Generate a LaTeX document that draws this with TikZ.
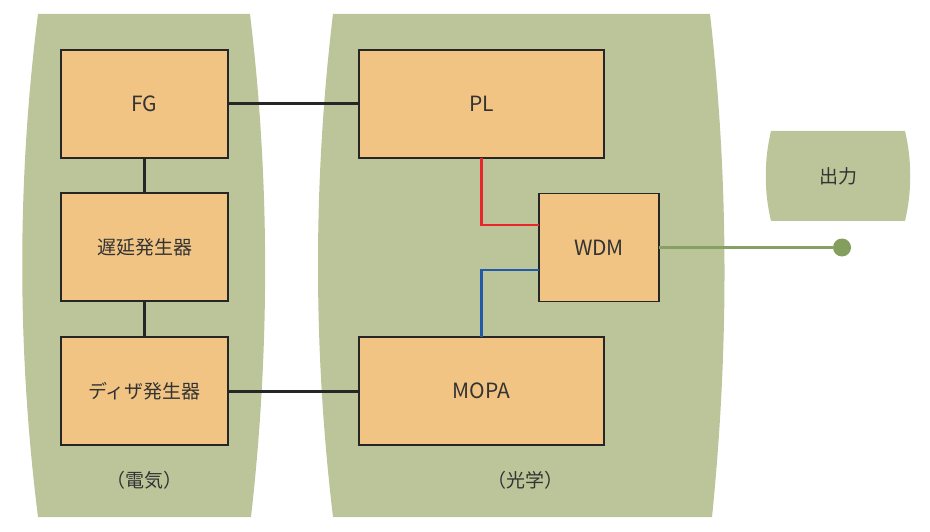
\documentclass[tikz,border=0pt]{standalone}
\usepackage{fontspec}
\setmainfont{Noto Sans CJK JP}
\usepackage{xcolor}
\usepackage{tikz}
\usetikzlibrary{positioning}
\definecolor{panelgreen}{HTML}{BCC599}
\definecolor{boxorange}{HTML}{F1C484}
\definecolor{linegreen}{HTML}{86A163}
\definecolor{dotgreen}{HTML}{849E5E}
\definecolor{redline}{HTML}{E8262B}
\definecolor{blueline}{HTML}{1F5BA8}
\tikzset{
	panel/.style = {fill=panelgreen, draw=none},
	block/.style = {draw=black!85, fill=boxorange, line width=1.3pt, rectangle, align=center,
		minimum height=108pt, inner sep=0pt, outer sep=0pt, text=black!80,
		font=\fontsize{19}{19}\selectfont},
	latin/.style = {font=\fontsize{21}{21}\selectfont},
	link/.style = {draw=black!85, line width=3pt},
	label/.style = {text=black!80, font=\fontsize{19}{19}\selectfont}
}
\begin{document}
\begin{tikzpicture}[x=1pt, y=-1pt]
	\useasboundingbox (0,0) rectangle (930,532);

	% green panels
	\path[panel] (38,14) -- (250,14) .. controls (270,180) and (270,350) .. (251,517)
		-- (38,517) .. controls (17,350) and (17,180) .. (38,14);
	\path[panel] (333,14) -- (710,14) .. controls (729,180) and (729,350) .. (712,517)
		-- (333,517) .. controls (313,350) and (313,180) .. (333,14);
	\path[panel] (771,131) -- (905,131) .. controls (912,160) and (912,192) .. (905,221)
		-- (771,221) .. controls (764,192) and (764,160) .. (771,131);

	% electrical side
	\node[block, latin, minimum width=167pt] (fg) at (144.5,104) {FG};
	\node[block, minimum width=167pt, below=35pt of fg] (delay) {遅延発生器};
	\node[block, minimum width=167pt, below=36pt of delay] (dither) {ディザ発生器};
	\node[label] (elec) at (144.5,480) {（電気）};

	% optical side
	\node[block, latin, minimum width=245pt] (pl) at (481.5,104) {PL};
	\node[block, latin, minimum width=245pt] (mopa) at (481.5,391) {MOPA};
	\node[block, latin, minimum width=120pt, minimum height=108pt] (wdm) at (599,247.5) {WDM};
	\node[label] (opt) at (525,480) {（光学）};

	% output
	\node[label] (out) at (838,176) {出力};
	\node[circle, fill=dotgreen, minimum size=18pt, inner sep=0pt] (dot) at (842,247.5) {};

	\coordinate (redin) at (539,225);
	\coordinate (bluein) at (539,270);

	% connections
	\draw[link] (fg) -- (pl);
	\draw[link] (fg) -- (delay);
	\draw[link] (delay) -- (dither);
	\draw[link] (dither) -- (mopa);
	\draw[redline, line width=2.7pt] (pl.south) |- (redin);
	\draw[blueline, line width=2.7pt] (mopa.north) |- (bluein);
	\draw[linegreen, line width=3pt] (wdm.east) -- (dot);
\end{tikzpicture}
\end{document}
